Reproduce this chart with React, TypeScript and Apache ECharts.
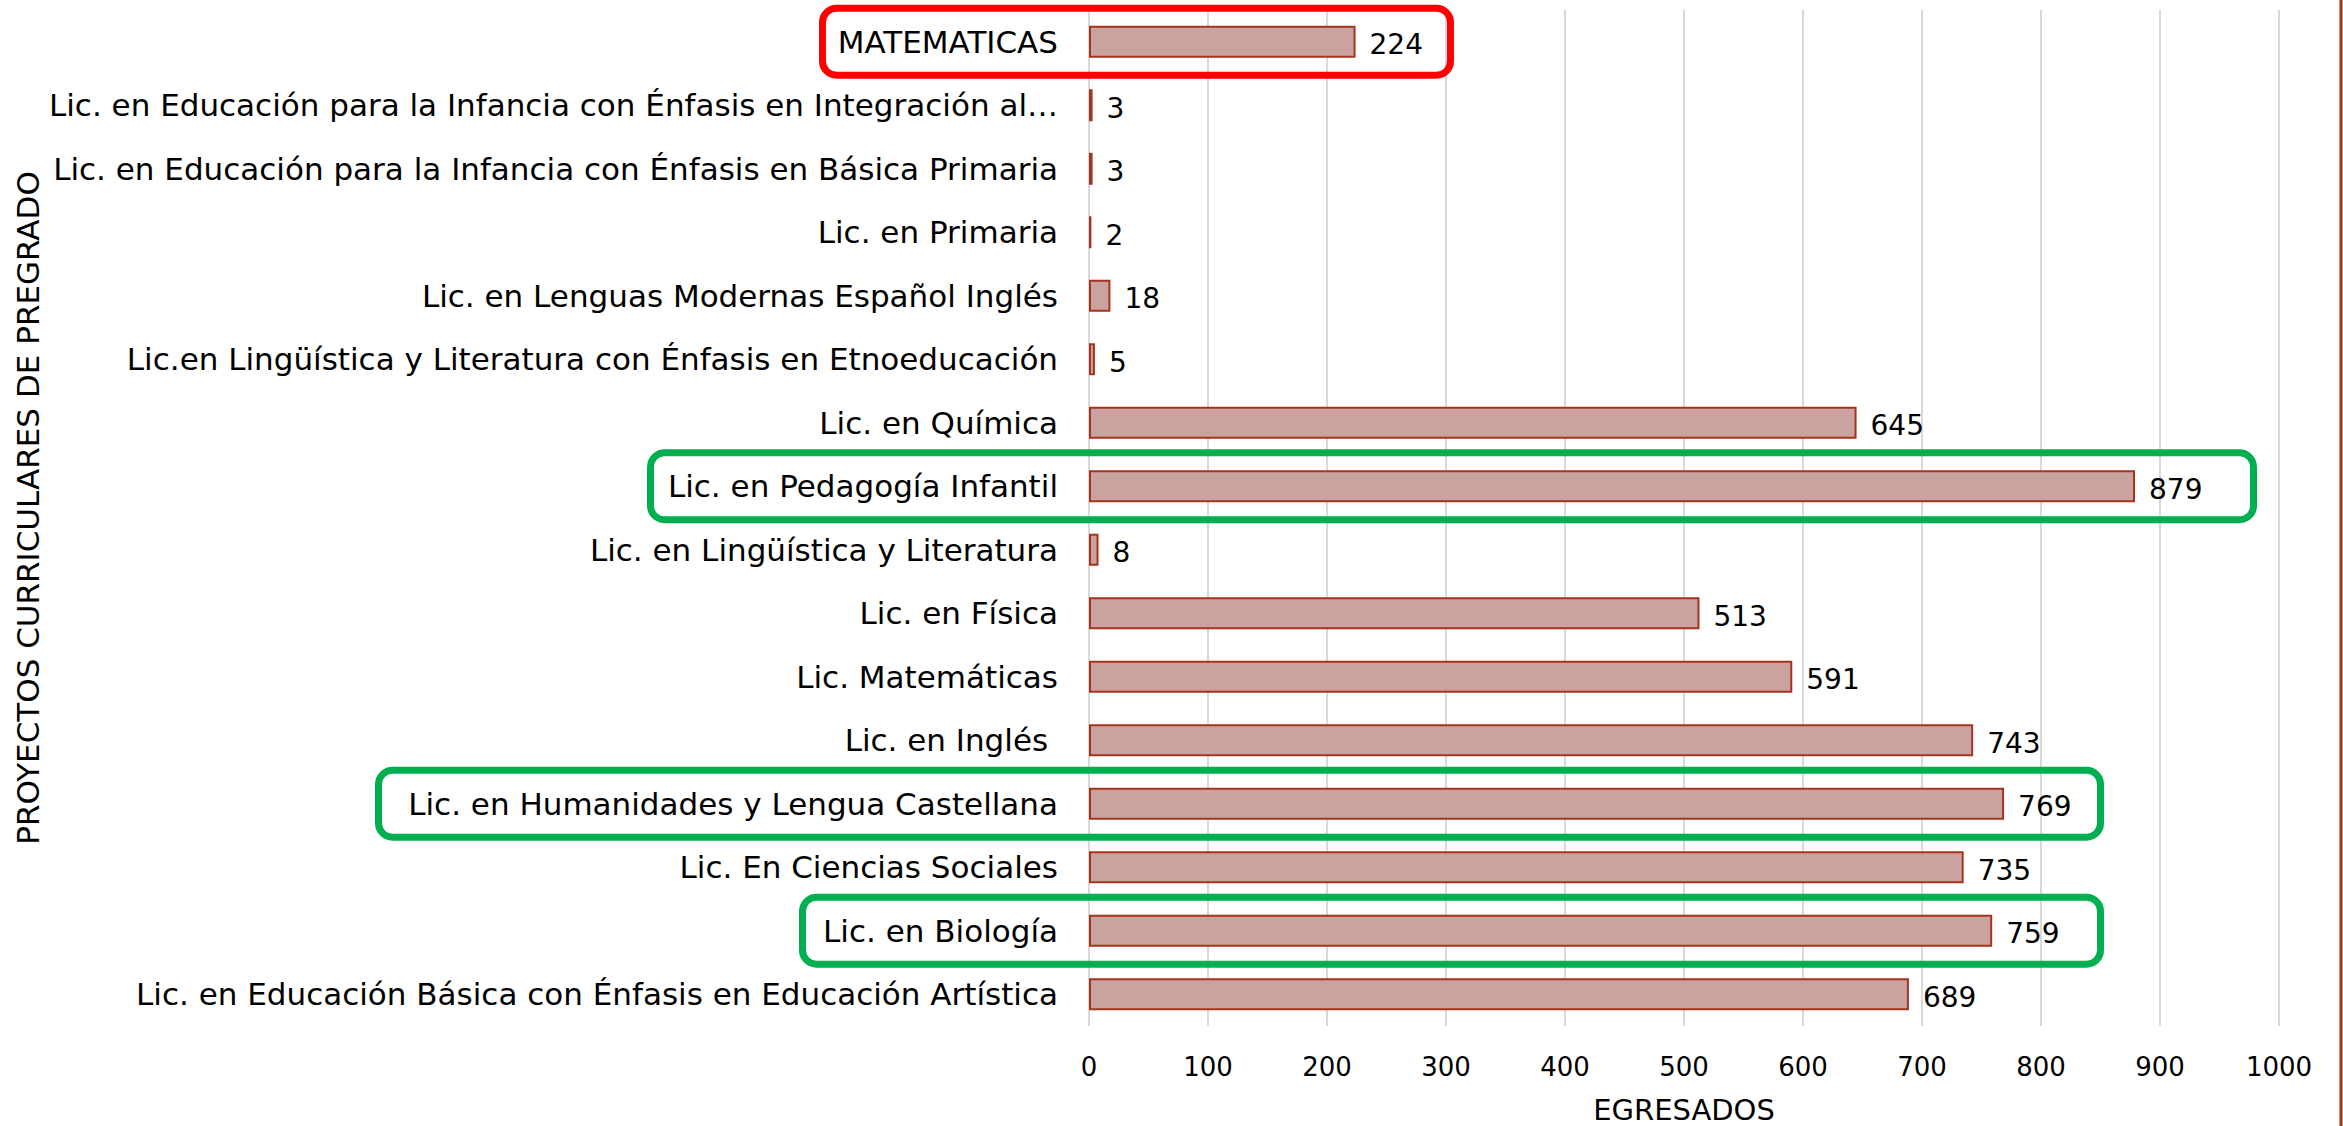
import React, { useEffect, useRef } from "react";
import * as echarts from "echarts";

const categories: string[] = [
  "MATEMATICAS",
  "Lic. en Educación para la Infancia con Énfasis en Integración al…",
  "Lic. en Educación para la Infancia con Énfasis en Básica Primaria",
  "Lic. en Primaria",
  "Lic. en Lenguas Modernas Español Inglés",
  "Lic.en Lingüística y Literatura con Énfasis en Etnoeducación",
  "Lic. en Química",
  "Lic. en Pedagogía Infantil",
  "Lic. en Lingüística y Literatura",
  "Lic. en Física",
  "Lic. Matemáticas",
  "Lic. en Inglés ",
  "Lic. en Humanidades y Lengua Castellana",
  "Lic. En Ciencias Sociales",
  "Lic. en Biología",
  "Lic. en Educación Básica con Énfasis en Educación Artística",
];

const egresados: number[] = [224, 3, 3, 2, 18, 5, 645, 879, 8, 513, 591, 743, 769, 735, 759, 689];

const xTicks: number[] = [0, 100, 200, 300, 400, 500, 600, 700, 800, 900, 1000];

const xTitle = "EGRESADOS";
const yTitle = "PROYECTOS CURRICULARES DE PREGRADO";

// highlighted rows: [category index, left edge px, right edge px, colour]
const highlights: { idx: number; left: number; right: number; color: string }[] = [
  { idx: 0, left: 819, right: 1454, color: "#FF0000" },
  { idx: 7, left: 647, right: 2257, color: "#00B050" },
  { idx: 12, left: 375, right: 2104, color: "#00B050" },
  { idx: 14, left: 799, right: 2104, color: "#00B050" },
];

const FONT = "DejaVu Sans";

export default function App() {
  const ref = useRef<HTMLDivElement>(null);
  useEffect(() => {
    document.body.style.margin = "0";
    document.body.style.overflow = "hidden";
    if (!ref.current) return;
    const chart = echarts.init(ref.current, undefined, { renderer: "svg" });
    chart.setOption({
      animation: false,
      backgroundColor: "#ffffff",
      textStyle: { fontFamily: FONT },
      grid: {
        left: 1089,
        right: 64,
        top: 10,
        bottom: 100,
        containLabel: false,
        outerBoundsMode: "none",
      },
      xAxis: {
        type: "value",
        min: xTicks[0],
        max: xTicks[xTicks.length - 1],
        interval: 100,
        axisLine: { show: false },
        axisTick: { show: false },
        axisLabel: {
          fontSize: 26,
          color: "#000",
          margin: 28,
          fontFamily: FONT,
          formatter: (v: number) => String(v),
        },
        splitLine: { show: true, lineStyle: { color: "#D9D9D9", width: 2 } },
        name: xTitle,
        nameLocation: "middle",
        nameGap: 69,
        nameTextStyle: { fontSize: 29, color: "#000", fontFamily: FONT },
      },
      yAxis: {
        type: "category",
        data: categories,
        inverse: true,
        axisLine: { show: false },
        axisTick: { show: false },
        axisLabel: { fontSize: 31, color: "#000", margin: 31, fontFamily: FONT },
      },
      series: [
        {
          type: "bar",
          data: egresados,
          barWidth: 32,
          itemStyle: { color: "#CAA2A0", borderColor: "#A5341C", borderWidth: 2 },
          label: {
            show: true,
            position: "right",
            distance: 14,
            offset: [0, 3],
            fontSize: 28,
            color: "#000",
            fontFamily: FONT,
          },
        },
      ],
    });

    const elements: any[] = [];
    highlights.forEach((h) => {
      const cy = chart.convertToPixel({ yAxisIndex: 0 }, categories[h.idx]) as number;
      const lw = 7;
      const halfOuter = 37;
      elements.push({
        type: "rect",
        shape: {
          x: h.left + lw / 2,
          y: cy - halfOuter + lw / 2,
          width: h.right - h.left - lw,
          height: halfOuter * 2 - lw,
          r: 14,
        },
        style: { fill: "none", stroke: h.color, lineWidth: lw },
        z: 100,
      });
    });
    elements.push({
      type: "text",
      x: 28,
      y: 508,
      rotation: Math.PI / 2,
      style: {
        text: yTitle,
        fontSize: 31,
        fill: "#000",
        fontFamily: FONT,
        textAlign: "center",
        textVerticalAlign: "middle",
      },
    });
    elements.push({
      type: "line",
      shape: { x1: 2341, y1: 0, x2: 2341, y2: 1126 },
      style: { stroke: "#A5341C", lineWidth: 3 },
    });
    chart.setOption({ graphic: { elements } });

    return () => chart.dispose();
  }, []);
  return <div ref={ref} style={{ width: 2343, height: 1126 }} />;
}
